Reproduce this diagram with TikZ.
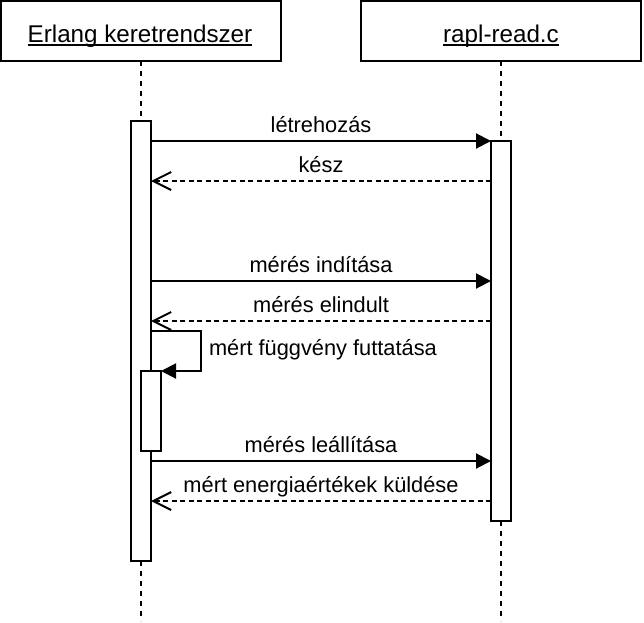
\documentclass[tikz,border=0pt]{standalone}
\usepackage{fontspec}
\setmainfont{Liberation Sans}
\usetikzlibrary{arrows.meta}
\newcommand\myul[1]{\setbox0\hbox{#1}\rlap{\vrule height -1.6pt depth 3.6pt width \wd0}\box0}
\tikzset{
  every picture/.style={line width=2pt},
  hdr/.style={draw, line width=2pt, minimum width=280pt, minimum height=60pt, inner sep=0pt},
  hdrtxt/.style={anchor=base, inner sep=0pt, font=\fontsize{24.2}{29}\selectfont},
  act/.style={draw, fill=white, line width=2pt, minimum width=20pt, inner sep=0pt},
  life/.style={line width=2pt, dash pattern=on 5pt off 5pt},
  msg/.style={line width=2pt, -{Triangle[length=15pt,width=15pt]}},
  ret/.style={line width=2pt, dash pattern=on 5pt off 3.5pt, -{Straight Barb[length=18pt,width=18pt,line width=2pt]}},
  lbl/.style={anchor=base, inner sep=0pt, font=\fontsize{21.8}{26}\selectfont, yshift=9pt}
}
\begin{document}
\begin{tikzpicture}[x=1pt,y=-1pt]
\useasboundingbox (0,0) rectangle (644,622);
% headers
\node[hdr] (hA) at (141,31) {};
\node[hdr] (hB) at (501,31) {};
\node[hdrtxt] (tA) at (140,42) {\myul{Erlang keretrendszer}};
\node[hdrtxt] (tB) at (501,42) {\myul{rapl-read.c}};
% lifelines
\coordinate (la0) at (141,61); \coordinate (la1) at (141,621);
\coordinate (lb0) at (501,61); \coordinate (lb1) at (501,621);
\draw[life] (la0) -- (la1);
\draw[life] (lb0) -- (lb1);
% activations
\node[act, minimum height=440pt] (aA) at (141,341) {};
\node[act, minimum height=380pt] (aB) at (501,331) {};
\node[act, minimum height=80pt] (aS) at (151,411) {};
% messages
\coordinate (a1) at (151,141); \coordinate (b1) at (491,141);
\coordinate (a2) at (151,181); \coordinate (b2) at (491,181);
\coordinate (a3) at (151,281); \coordinate (b3) at (491,281);
\coordinate (a4) at (151,321); \coordinate (b4) at (491,321);
\coordinate (a5) at (151,461); \coordinate (b5) at (491,461);
\coordinate (a6) at (151,501); \coordinate (b6) at (491,501);
\draw[msg] (a1) -- node[lbl, midway] {létrehozás} (b1);
\draw[ret] (b2) -- node[lbl, midway] {kész} (a2);
\draw[msg] (a3) -- node[lbl, midway] {mérés indítása} (b3);
\draw[ret] (b4) -- node[lbl, midway] {mérés elindult} (a4);
\draw[msg] (a5) -- node[lbl, midway] {mérés leállítása} (b5);
\draw[ret] (b6) -- node[lbl, midway] {mért energiaértékek küldése} (a6);
% self message
\coordinate (s0) at (151,331); \coordinate (s1) at (201,331);
\coordinate (s2) at (201,371); \coordinate (s3) at (161,371);
\draw[msg] (s0) -- (s1) -- (s2) -- (s3);
\node[anchor=base west, inner sep=0pt, font=\fontsize{21.8}{26}\selectfont] (sl) at (208,355) {mért függvény futtatása};
\end{tikzpicture}
\end{document}
